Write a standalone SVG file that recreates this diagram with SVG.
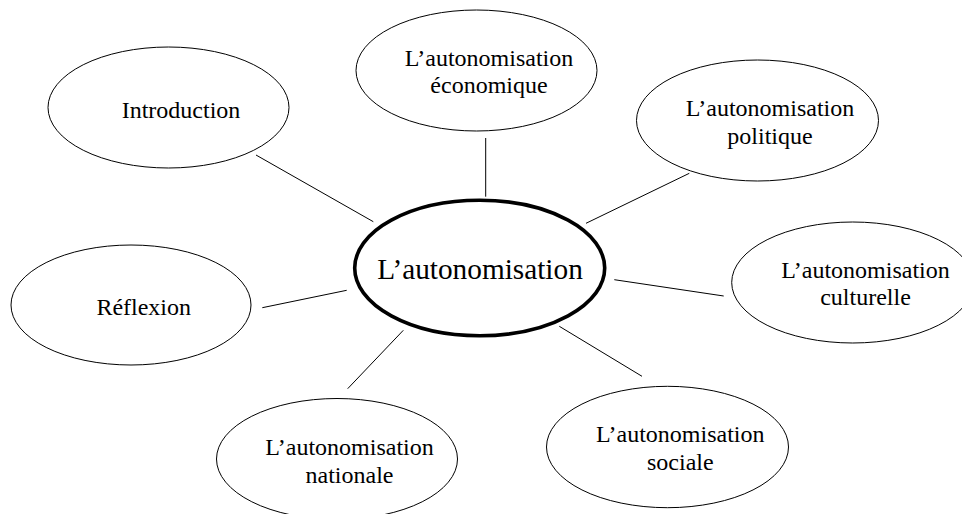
<svg xmlns="http://www.w3.org/2000/svg" width="962" height="514" viewBox="0 0 962 514">
<style>
.n{fill:#fff;stroke:#000;stroke-width:1}
.c{fill:#fff;stroke:#000;stroke-width:3.6}
text{font-family:'Liberation Serif','Times New Roman',Times,'DejaVu Serif',serif;fill:#000;text-anchor:middle}
.t{font-size:24px}
.tc{font-size:29.3px}
#edges line{stroke:#000;stroke-width:1}
</style>
<rect width="962" height="514" fill="#fff"/>
<g id="edges">
<line x1="256" y1="155" x2="373.3" y2="221.7"/>
<line x1="485.7" y1="138" x2="485.7" y2="196.7"/>
<line x1="586" y1="223.3" x2="689.3" y2="173.3"/>
<line x1="614.3" y1="279.7" x2="723.7" y2="296"/>
<line x1="559.3" y1="326.3" x2="642" y2="376.3"/>
<line x1="262.3" y1="307.7" x2="346.7" y2="290.3"/>
<line x1="403.3" y1="330.3" x2="347.7" y2="388.7"/>
</g>
<g id="introduction">
<ellipse class="n" cx="168.5" cy="107.5" rx="120.5" ry="60.5"/>
<text class="t" x="181" y="117.5" font-family="Liberation Serif, serif">Introduction</text>
</g>
<g id="economique">
<ellipse class="n" cx="476.5" cy="70.5" rx="120.5" ry="60.5"/>
<text class="t" x="489" y="65.5">L’autonomisation</text>
<text class="t" x="489" y="93">économique</text>
</g>
<g id="politique">
<ellipse class="n" cx="757.5" cy="120.5" rx="121" ry="60.5"/>
<text class="t" x="770" y="116">L’autonomisation</text>
<text class="t" x="770" y="143.5">politique</text>
</g>
<g id="culturelle">
<ellipse class="n" cx="852.7" cy="282.5" rx="121" ry="60.5"/>
<text class="t" x="865.5" y="277.5">L’autonomisation</text>
<text class="t" x="865.5" y="305">culturelle</text>
</g>
<g id="sociale">
<ellipse class="n" cx="667.5" cy="447" rx="121" ry="60.7"/>
<text class="t" x="680.3" y="442">L’autonomisation</text>
<text class="t" x="680.3" y="469.5">sociale</text>
</g>
<g id="nationale">
<ellipse class="n" cx="337" cy="459" rx="120.5" ry="60.5"/>
<text class="t" x="349.5" y="455">L’autonomisation</text>
<text class="t" x="349.5" y="482.5">nationale</text>
</g>
<g id="reflexion">
<ellipse class="n" cx="131" cy="305" rx="120" ry="60"/>
<text class="t" x="143.7" y="315.3">Réflexion</text>
</g>
<g id="center">
<ellipse class="c" cx="479.7" cy="268" rx="125" ry="67.7"/>
<text class="tc" x="480" y="279">L’autonomisation</text>
</g>
</svg>
